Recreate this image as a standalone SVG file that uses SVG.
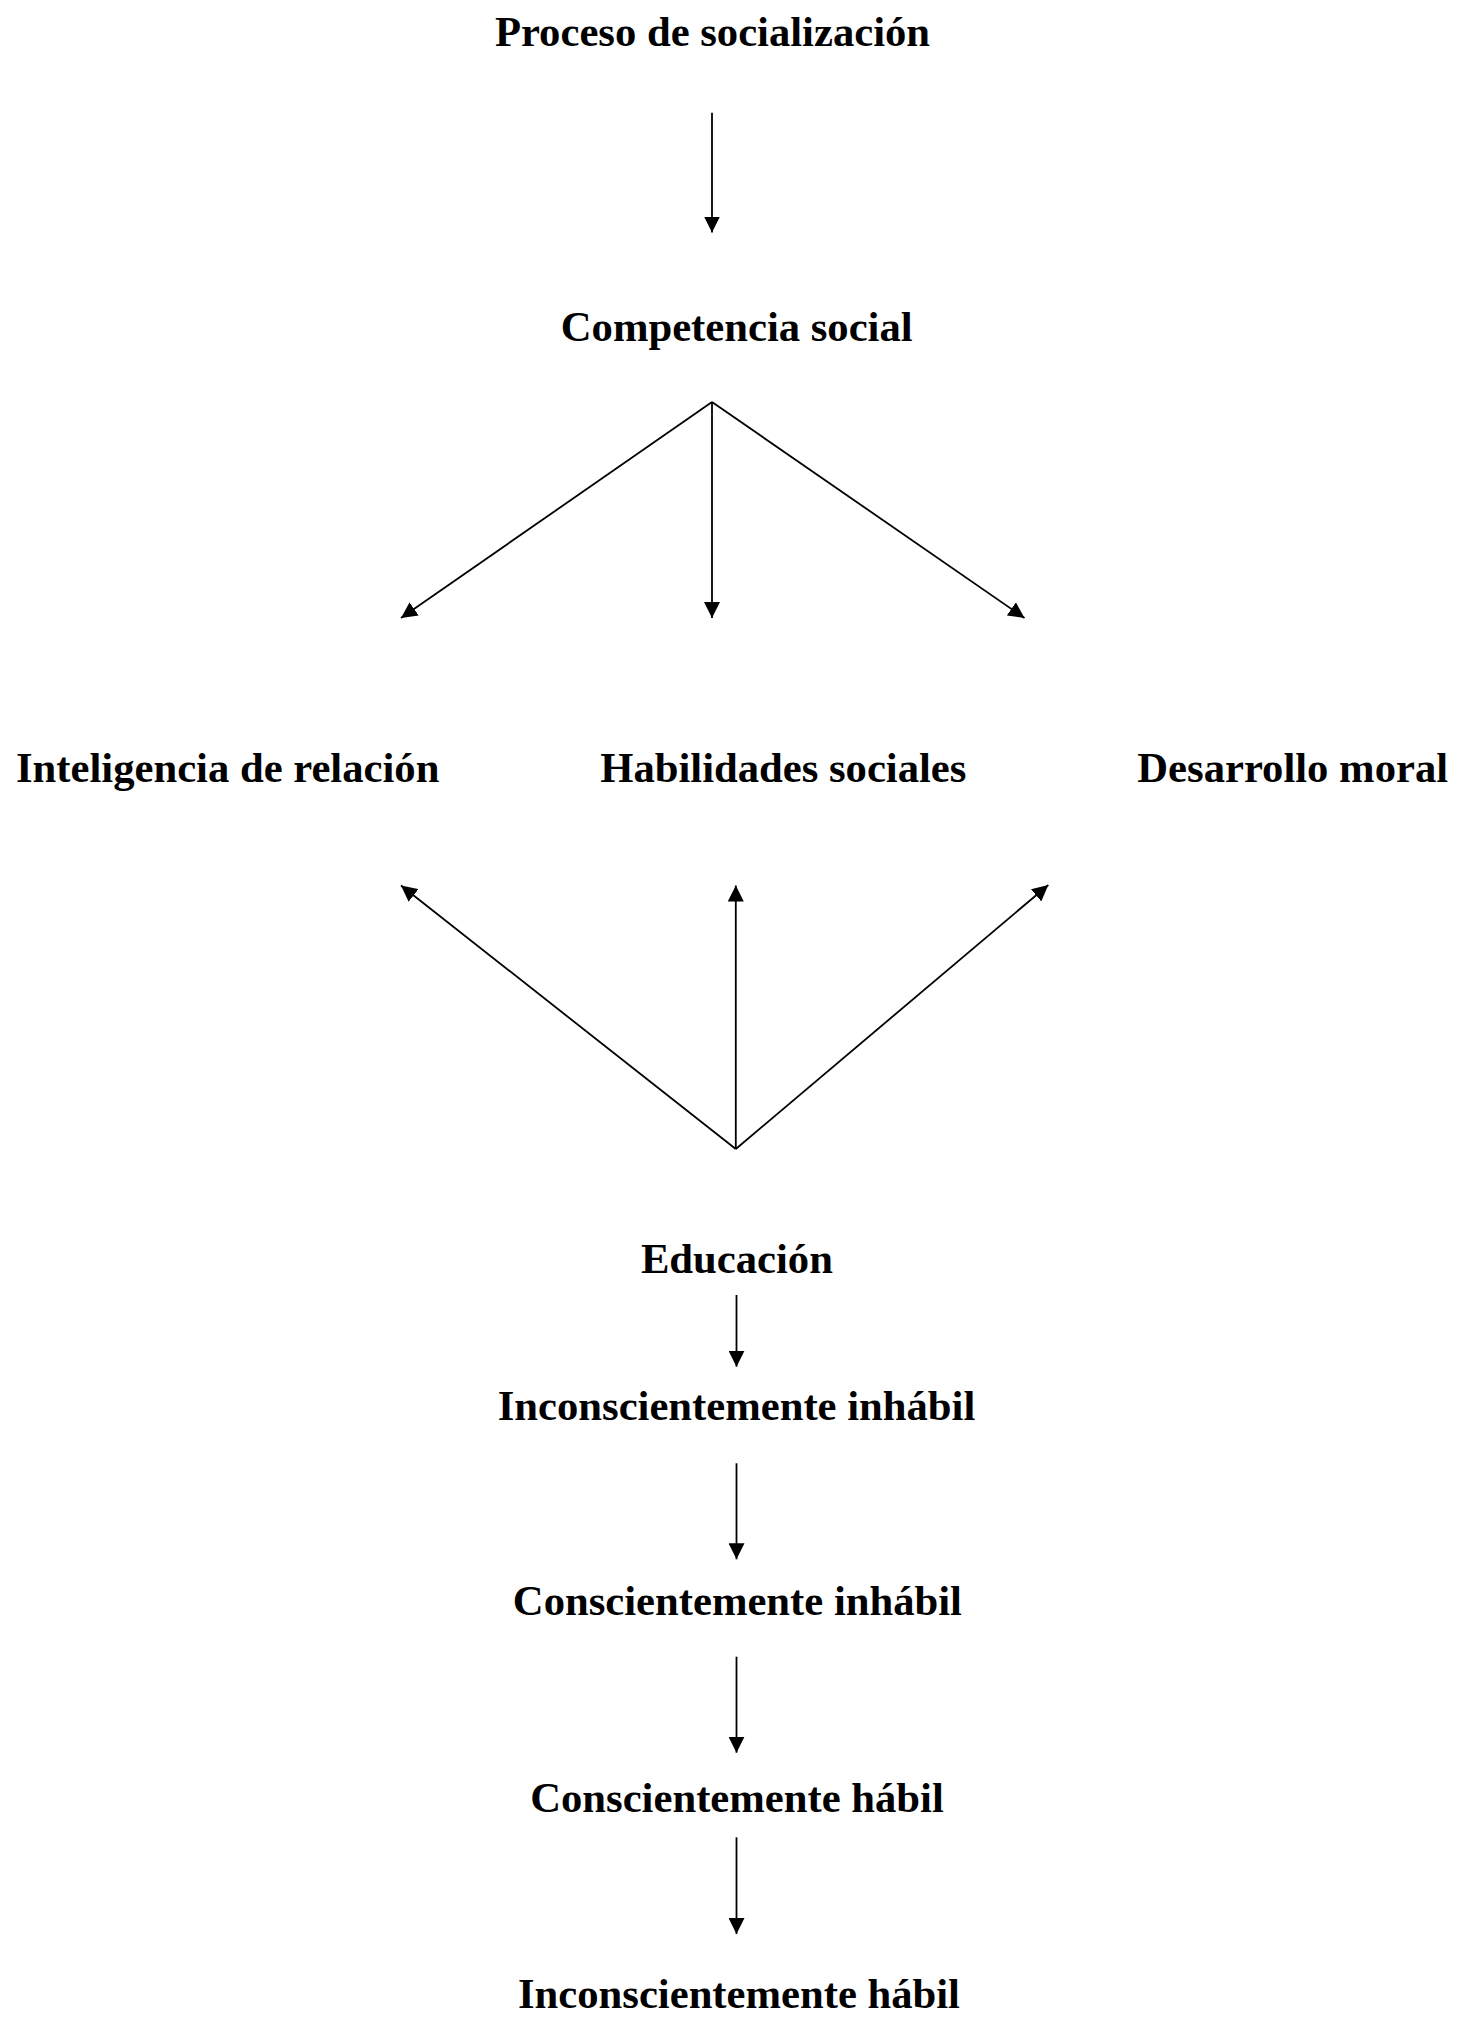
<svg xmlns="http://www.w3.org/2000/svg" width="1461" height="2017" viewBox="0 0 1461 2017">
  <defs>
    <marker id="arr" viewBox="0 0 16 16" refX="16" refY="8" markerWidth="16" markerHeight="16" markerUnits="userSpaceOnUse" orient="auto">
      <path d="M0,0 L16,8 L0,16 z" fill="#000"/>
    </marker>
    <style>
      .lbl { font-family: "Liberation Serif", "Times New Roman", serif; font-weight: bold; font-size: 42.67px; fill: #000; text-anchor: middle; }
      .c { stroke: #000; stroke-width: 1.8; fill: none; marker-end: url(#arr); }
    </style>
  </defs>
  <rect width="1461" height="2017" fill="#fff"/>
  <g id="connectors">
    <line class="c" x1="712" y1="112.7" x2="712" y2="232.5"/>
    <line class="c" x1="712" y1="402" x2="401" y2="618"/>
    <line class="c" x1="712" y1="402" x2="712" y2="618"/>
    <line class="c" x1="712" y1="402" x2="1024.5" y2="618"/>
    <line class="c" x1="735.8" y1="1149" x2="401" y2="885.5"/>
    <line class="c" x1="735.8" y1="1149" x2="735.8" y2="885.5"/>
    <line class="c" x1="735.8" y1="1149" x2="1048.3" y2="885"/>
    <line class="c" x1="736.5" y1="1295" x2="736.5" y2="1366.7"/>
    <line class="c" x1="736.5" y1="1463.3" x2="736.5" y2="1559.3"/>
    <line class="c" x1="736.5" y1="1656.7" x2="736.5" y2="1752.7"/>
    <line class="c" x1="736.5" y1="1837.3" x2="736.5" y2="1934"/>
  </g>
  <g id="proceso"><text class="lbl" x="712.5" y="46">Proceso de socialización</text></g>
  <g id="competencia"><text class="lbl" x="736.7" y="341">Competencia social</text></g>
  <g id="inteligencia"><text class="lbl" x="227.7" y="782.3">Inteligencia de relación</text></g>
  <g id="habilidades"><text class="lbl" x="783.3" y="782.3">Habilidades sociales</text></g>
  <g id="desarrollo"><text class="lbl" x="1292.7" y="782.3">Desarrollo moral</text></g>
  <g id="educacion"><text class="lbl" x="736.9" y="1273.3">Educación</text></g>
  <g id="inc-inhabil"><text class="lbl" x="736.5" y="1420">Inconscientemente inhábil</text></g>
  <g id="con-inhabil"><text class="lbl" x="737.4" y="1615">Conscientemente inhábil</text></g>
  <g id="con-habil"><text class="lbl" x="737" y="1811.7">Conscientemente hábil</text></g>
  <g id="inc-habil"><text class="lbl" x="739" y="2008.3">Inconscientemente hábil</text></g>
</svg>
